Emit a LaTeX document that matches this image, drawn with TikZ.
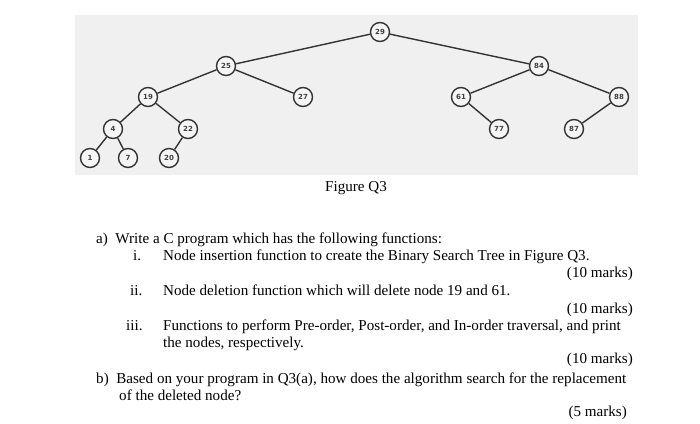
\documentclass[tikz,border=0pt]{standalone}
\usepackage{fontspec}
\setmainfont{Liberation Serif}
\setsansfont{DejaVu Sans}
\begin{document}
\begin{tikzpicture}[x=1pt,y=-1pt,
    key/.style={circle, draw=black!80, line width=1.4pt, fill=gray!8, minimum size=19pt, inner sep=0pt, font=\sffamily\fontsize{7}{7}\selectfont\bfseries, text=black!75},
    edge/.style={line width=1.4pt, draw=black!80},
    txt/.style={anchor=base west, inner sep=0pt, font=\fontsize{15.1}{17}\selectfont}]
        \useasboundingbox (0,0) rectangle (700,423);
        \fill[gray!12] (75,15) rectangle (638,175);

        % tree
        \node[key] (k29) at (380,32) {29};
        \node[key] (k25) at (226,66) {25};
        \node[key] (k84) at (539,66) {84};
        \node[key] (k19) at (148,97) {19};
        \node[key] (k27) at (303,97) {27};
        \node[key] (k61) at (461,97) {61};
        \node[key] (k88) at (619,97) {88};
        \node[key] (k4) at (113,129) {4};
        \node[key] (k22) at (188,129) {22};
        \node[key] (k77) at (499,129) {77};
        \node[key] (k87) at (574,129) {87};
        \node[key] (k1) at (90,158) {1};
        \node[key] (k7) at (128,158) {7};
        \node[key] (k20) at (169,158) {20};

        \draw[edge] (k29) -- (k25);
        \draw[edge] (k29) -- (k84);
        \draw[edge] (k25) -- (k19);
        \draw[edge] (k25) -- (k27);
        \draw[edge] (k84) -- (k61);
        \draw[edge] (k84) -- (k88);
        \draw[edge] (k19) -- (k4);
        \draw[edge] (k19) -- (k22);
        \draw[edge] (k61) -- (k77);
        \draw[edge] (k88) -- (k87);
        \draw[edge] (k4) -- (k1);
        \draw[edge] (k4) -- (k7);
        \draw[edge] (k22) -- (k20);

        % question text
        \node[txt] (cap) at (325,191) {Figure Q3};
        \node[txt] (qa) at (96,243) {a)\ \ Write a C program which has the following functions:};
        \node[txt] (n1) at (133,260) {i.};
        \node[txt] (q1) at (163,260) {Node insertion function to create the Binary Search Tree in Figure Q3.};
        \node[txt, anchor=base east] (m1) at (633,277) {(10 marks)};
        \node[txt] (n2) at (130,295) {ii.};
        \node[txt] (q2) at (163,295) {Node deletion function which will delete node 19 and 61.};
        \node[txt, anchor=base east] (m2) at (633,313) {(10 marks)};
        \node[txt] (n3) at (126,330) {iii.};
        \node[txt] (q3) at (163,330) {Functions to perform Pre-order, Post-order, and In-order traversal, and print};
        \node[txt] (q3b) at (163,347) {the nodes, respectively.};
        \node[txt, anchor=base east] (m3) at (633,363) {(10 marks)};
        \node[txt] (qb) at (96,383) {b)\ \ Based on your program in Q3(a), how does the algorithm search for the replacement};
        \node[txt] (qb2) at (119,400) {of the deleted node?};
        \node[txt, anchor=base east] (m4) at (627,416) {(5 marks)};
\end{tikzpicture}
\end{document}
